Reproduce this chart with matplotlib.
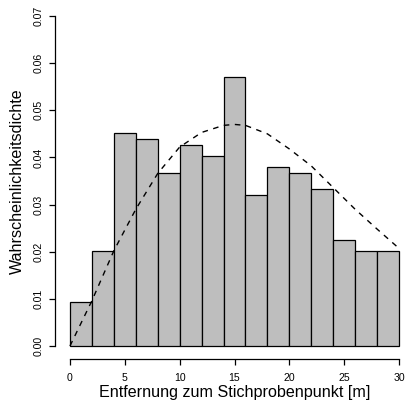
import matplotlib
matplotlib.use("Agg")
import matplotlib.pyplot as plt
import numpy as np

plt.rcParams['font.family'] = ['Liberation Sans', 'DejaVu Sans']

# histogram: bin edges (m) and densities
bin_edges = [0, 2, 4, 6, 8, 10, 12, 14, 16, 18, 20, 22, 24, 26, 28, 30]
densities = [0.0094, 0.0201, 0.0451, 0.0439, 0.0368, 0.0427, 0.0404, 0.0571,
             0.0321, 0.0380, 0.0368, 0.0333, 0.0225, 0.0201, 0.0201]

# dashed reference curve, read point by point
curve_x = [0, 2, 4, 6, 8, 10, 12, 14, 15, 16, 18, 20, 22, 24, 26, 28, 30]
curve_y = [0.0, 0.0096, 0.0202, 0.0290, 0.0366, 0.0422, 0.0453, 0.0468, 0.0470,
           0.0468, 0.0450, 0.0418, 0.0382, 0.0336, 0.0290, 0.0248, 0.0207]

xticks = [0, 5, 10, 15, 20, 25, 30]
yticks = [0.00, 0.01, 0.02, 0.03, 0.04, 0.05, 0.06, 0.07]

W, H = 407, 418
fig = plt.figure(figsize=(W / 100, H / 100), dpi=100)
# plot region in pixels (R style, 4% padding on both axes)
left_px, right_px = 56.8, 412.2
top_px, bottom_px = 2.8, 359.2
ax = fig.add_axes([left_px / W, 1 - bottom_px / H,
                   (right_px - left_px) / W, (bottom_px - top_px) / H])
ax.set_xlim(-1.2, 31.2)
ax.set_ylim(-0.0028, 0.0728)

edges = np.array(bin_edges)
ax.bar(edges[:-1], densities, width=np.diff(edges), align='edge',
       color='#bebebe', edgecolor='black', linewidth=0.9)
ax.plot(curve_x, curve_y, color='black', linewidth=1.0,
        linestyle=(0, (4, 4)))

for side in ['top', 'right']:
    ax.spines[side].set_visible(False)
ax.spines['left'].set_bounds(0, 0.07)
ax.spines['left'].set_position(('outward', 1.3))
ax.spines['bottom'].set_bounds(0, 30)
for side in ['left', 'bottom']:
    ax.spines[side].set_linewidth(0.9)

ax.set_xticks(xticks)
ax.set_xticklabels([str(t) for t in xticks])
ax.set_yticks(yticks)
ax.set_yticklabels([f"{t:.2f}" for t in yticks], rotation=90, va='center')
ax.tick_params(axis='both', direction='out', length=4.3, width=0.9,
               labelsize=7.6, colors='black')
ax.tick_params(axis='x', pad=5.5)
ax.tick_params(axis='y', pad=3.6)

ax.set_xlabel('Entfernung zum Stichprobenpunkt [m]', fontsize=11.6, va='center')
ax.set_ylabel('Wahrscheinlichkeitsdichte', fontsize=11.6, va='center')
ax.xaxis.set_label_coords(0.5, (bottom_px - 392) / (bottom_px - top_px))
ax.yaxis.set_label_coords((17 - left_px) / (right_px - left_px), 0.5)

fig.savefig('out.png', dpi=100, facecolor='white')
